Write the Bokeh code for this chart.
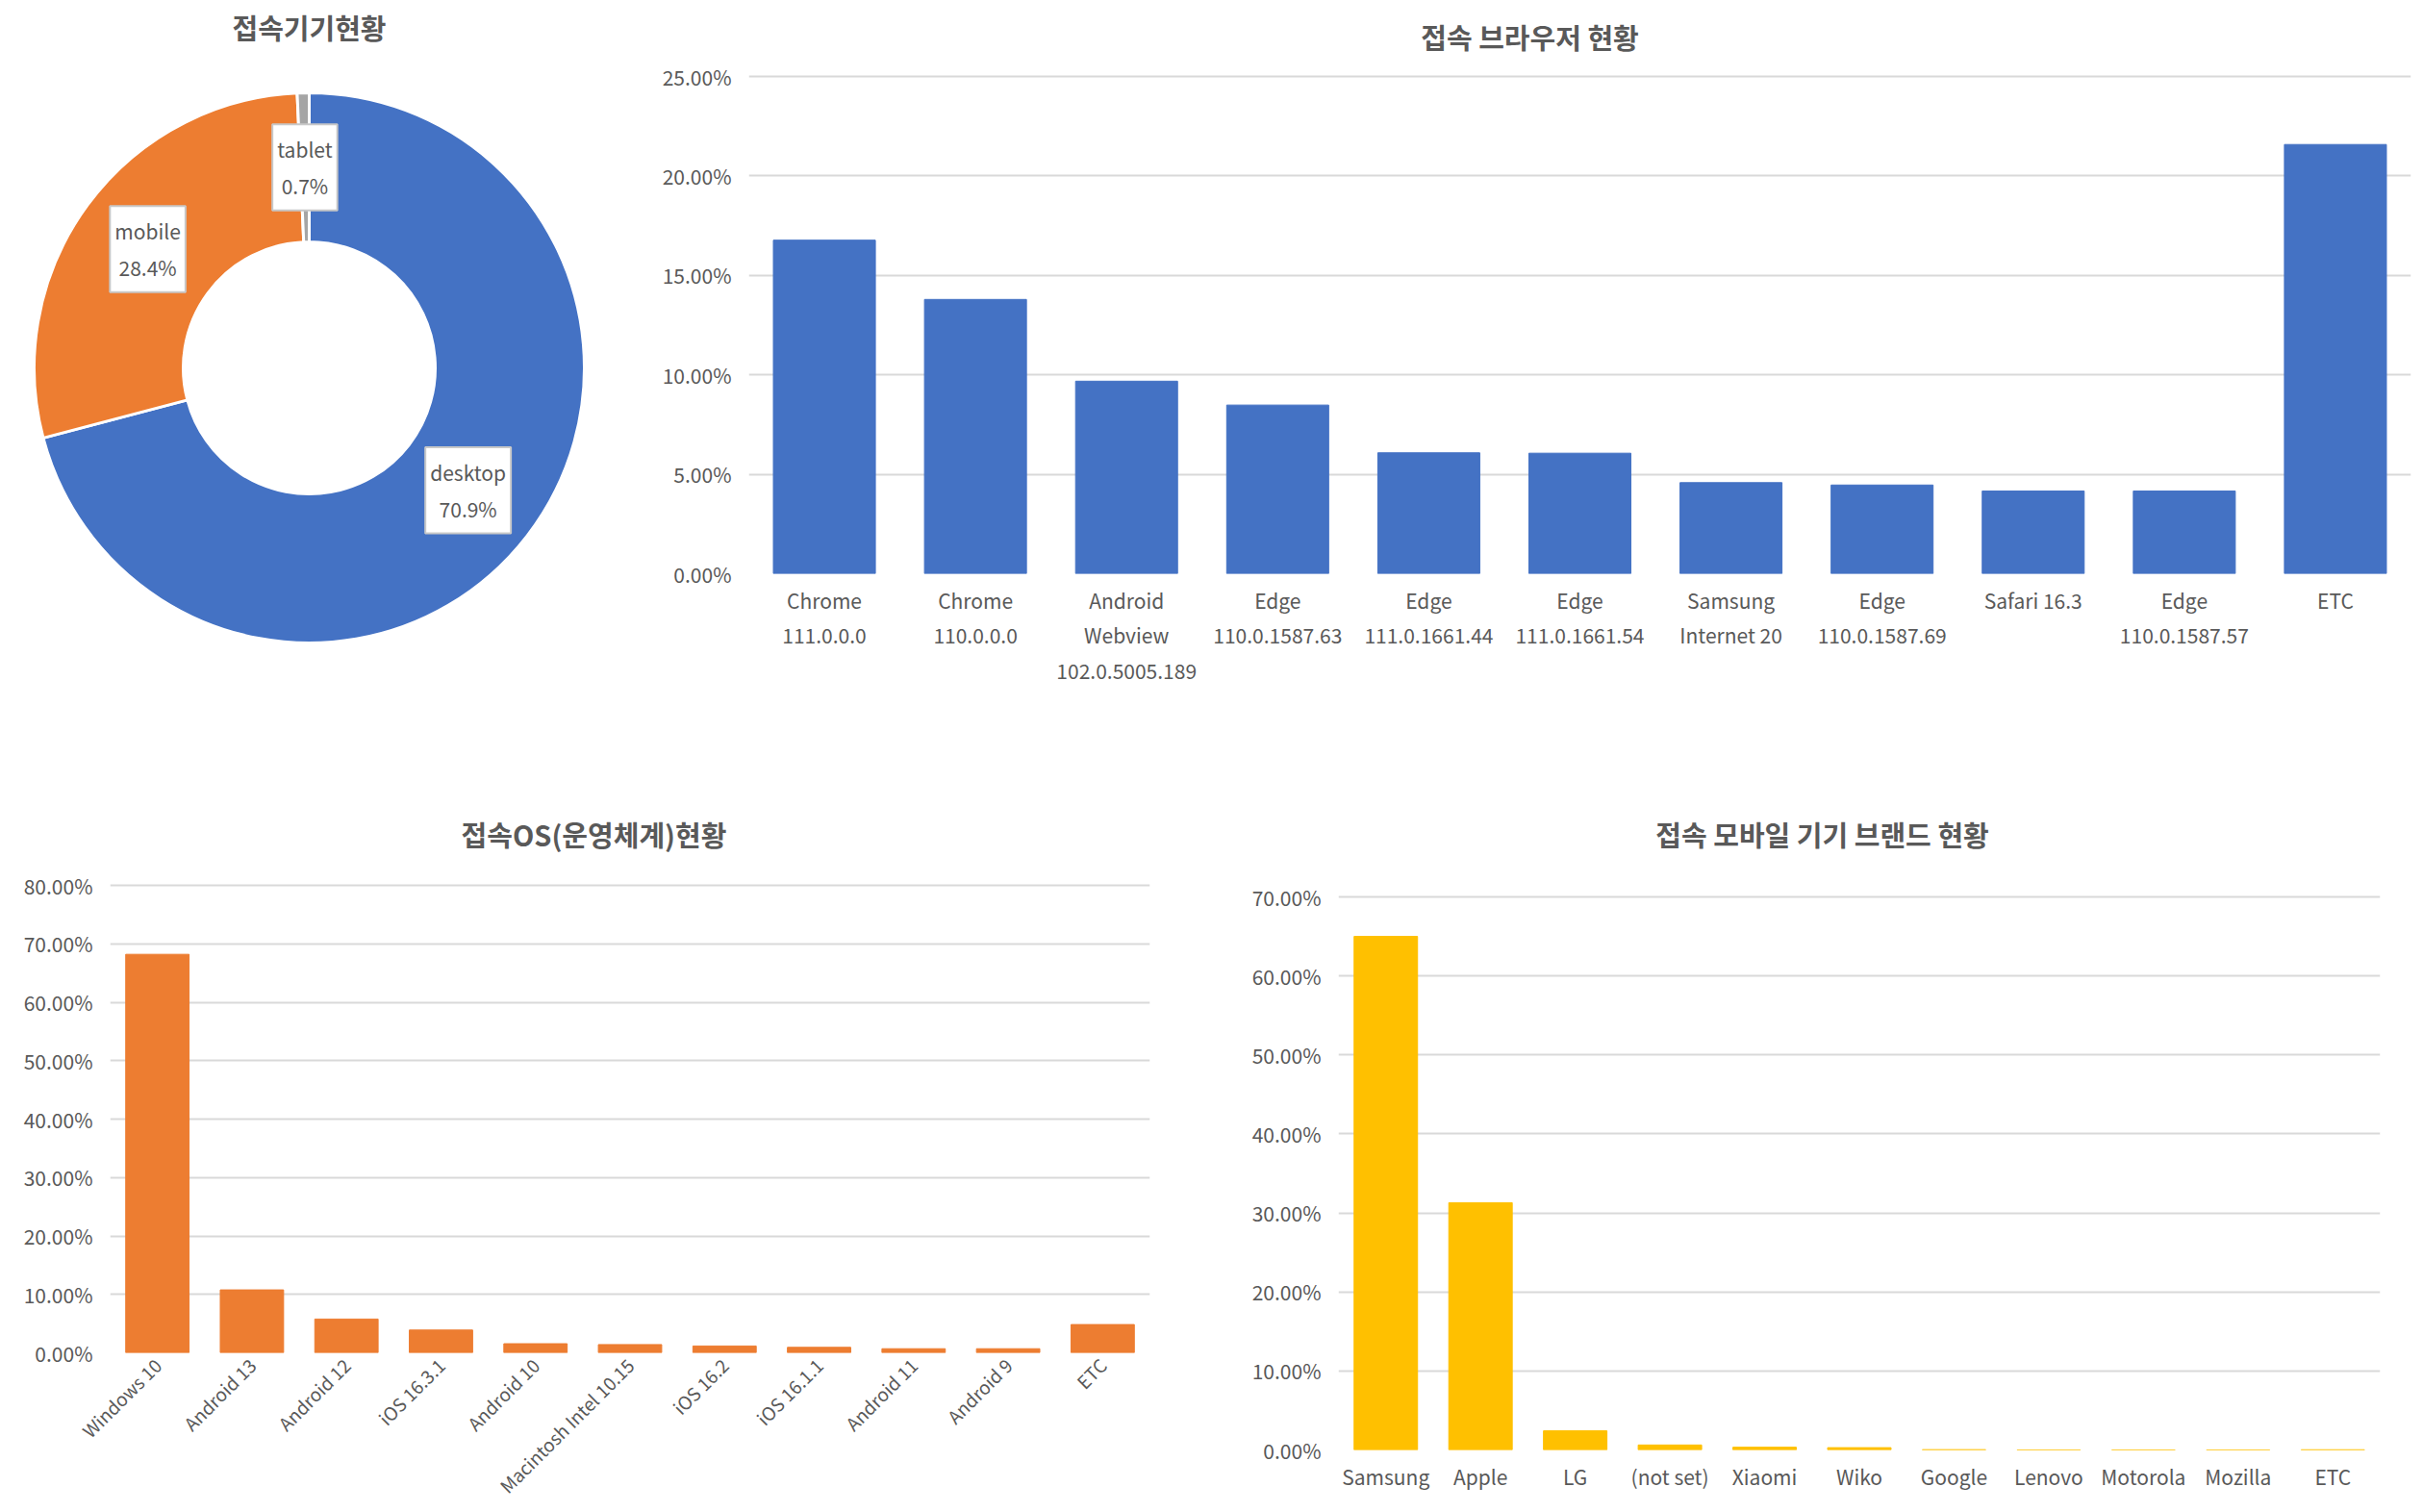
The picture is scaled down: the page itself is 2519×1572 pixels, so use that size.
import math
from bokeh.plotting import figure
from bokeh.layouts import column, row
from bokeh.models import (Range1d, FactorRange, Label, PrintfTickFormatter,
                          FixedTicker, ColumnDataSource)
from bokeh.core.properties import value
from bokeh.embed import file_html
from bokeh.resources import INLINE

# ---------------- data ----------------
device_names = ["desktop", "mobile", "tablet"]
device_shares = [70.9, 28.4, 0.7]

browser_labels = ["Chrome\n111.0.0.0", "Chrome\n110.0.0.0", "Android\nWebview\n102.0.5005.189",
                  "Edge\n110.0.1587.63", "Edge\n111.0.1661.44", "Edge\n111.0.1661.54",
                  "Samsung\nInternet 20", "Edge\n110.0.1587.69", "Safari 16.3",
                  "Edge\n110.0.1587.57", "ETC"]
browser_shares = [16.77, 13.79, 9.68, 8.48, 6.08, 6.06, 4.58, 4.46, 4.16, 4.16, 21.58]
browser_ticks = [0, 5, 10, 15, 20, 25]

os_labels = ["Windows 10", "Android 13", "Android 12", "iOS 16.3.1", "Android 10",
             "Macintosh Intel 10.15", "iOS 16.2", "iOS 16.1.1", "Android 11", "Android 9", "ETC"]
os_shares = [68.2, 10.77, 5.78, 3.90, 1.56, 1.41, 1.17, 0.94, 0.70, 0.70, 4.84]
os_ticks = [0, 10, 20, 30, 40, 50, 60, 70, 80]

brand_labels = ["Samsung", "Apple", "LG", "(not set)", "Xiaomi", "Wiko", "Google",
                "Lenovo", "Motorola", "Mozilla", "ETC"]
brand_shares = [65.0, 31.3, 2.42, 0.63, 0.35, 0.29, 0.04, 0.01, 0.01, 0.01, 0.03]
brand_ticks = [0, 10, 20, 30, 40, 50, 60, 70]

titles = ["접속기기현황", "접속 브라우저 현황", "접속OS(운영체계)현황", "접속 모바일 기기 브랜드 현황"]

# ---------------- style ----------------
FONT = "Noto Sans CJK KR"
TXT = "#595959"
GRID = "#D9D9D9"
BLUE = "#4472C4"
ORANGE = "#ED7D31"
GRAY = "#A5A5A5"
YELLOW = "#FFC000"
TITLE_SIZE = "29px"
LABEL_SIZE = "21px"


def bar_panel(labels, shares, ticks, color, fig_x0, fig_x1, fig_y0, fig_y1,
              frame_l, frame_r, y_top_px, y_zero_px, title, title_cx, title_cy, bar_w):
    """Bar chart; frame spans from figure top down to the zero line (pixel layout)."""
    width = fig_x1 - fig_x0
    height = fig_y1 - fig_y0
    px_per_unit = (y_zero_px - y_top_px) / ticks[-1]
    y_end = ticks[-1] + (y_top_px - fig_y0) / px_per_unit
    p = figure(width=width, height=height, x_range=FactorRange(*labels),
               y_range=Range1d(0, y_end), output_backend="svg", toolbar_location=None,
               min_border_left=frame_l - fig_x0, min_border_right=fig_x1 - frame_r,
               min_border_top=0, min_border_bottom=fig_y1 - y_zero_px)
    p.vbar(x=labels, top=shares, width=bar_w, color=color)
    p.xgrid.grid_line_color = None
    p.ygrid.grid_line_color = GRID
    p.ygrid.grid_line_width = 2
    p.outline_line_color = None
    p.yaxis.ticker = FixedTicker(ticks=ticks)
    p.yaxis.formatter = PrintfTickFormatter(format="%.2f%%")
    for ax in (p.xaxis, p.yaxis):
        ax.axis_line_color = None
        ax.major_tick_line_color = None
        ax.minor_tick_line_color = None
        ax.major_tick_out = 0
        ax.major_tick_in = 0
        ax.major_label_text_font = FONT
        ax.major_label_text_font_size = LABEL_SIZE
        ax.major_label_text_color = TXT
    p.yaxis.major_label_standoff = 18
    # title as text inside the (extended) frame
    cat_w = (frame_r - frame_l) / len(labels)
    tx = (title_cx - frame_l) / cat_w
    ty = ticks[-1] + (y_top_px - title_cy) / px_per_unit
    p.text(x=[tx], y=[ty], text=[title], text_font=value(FONT), text_font_size=TITLE_SIZE,
           text_font_style="bold", text_color=TXT, text_align="center", text_baseline="middle")
    return p


# ---------------- donut ----------------
CX, CY = 321, 382          # donut centre in page pixels
D_W, D_H = 650, 800
p1 = figure(width=D_W, height=D_H, x_range=Range1d(-CX, D_W - CX), y_range=Range1d(CY - D_H, CY),
            output_backend="svg", toolbar_location=None, min_border=0,
            x_axis_type=None, y_axis_type=None)
p1.grid.visible = False
p1.outline_line_color = None

total = sum(device_shares)
starts, ends, mids = [], [], []
cum = 0.0
for s in device_shares:
    f = s / total
    starts.append(math.pi / 2 - 2 * math.pi * cum)
    mids.append(math.pi / 2 - 2 * math.pi * (cum + f / 2))
    cum += f
    ends.append(math.pi / 2 - 2 * math.pi * cum)

R_IN, R_OUT = 131, 286
src = ColumnDataSource(dict(start=starts, end=ends, color=[BLUE, ORANGE, GRAY]))
p1.annular_wedge(x=0, y=0, inner_radius=R_IN, outer_radius=R_OUT, start_angle="start",
                 end_angle="end", direction="clock", fill_color="color",
                 line_color="white", line_width=3, source=src)

rm = (R_IN + R_OUT) / 2
for name, share, a in zip(device_names, device_shares, mids):
    p1.add_layout(Label(x=rm * math.cos(a), y=rm * math.sin(a), text=f"{name}\n{share}%",
                        text_font=FONT, text_font_size=LABEL_SIZE, text_color=TXT,
                        text_align="center", text_baseline="middle", text_line_height=1.25,
                        background_fill_color="white", border_line_color="#C8C8C8",
                        border_line_width=2, padding=(5, 11)))

p1.text(x=[0], y=[CY - 27], text=[titles[0]], text_font=value(FONT), text_font_size=TITLE_SIZE,
        text_font_style="bold", text_color=TXT, text_align="center", text_baseline="middle")

# ---------------- browsers ----------------
p2 = bar_panel(browser_labels, browser_shares, browser_ticks, BLUE,
               650, 2511, 0, 800, 778, 2506, 79, 596, titles[1], 1590, 37, 0.675)
p2.xaxis.major_label_text_line_height = 1.22
p2.xaxis.major_label_standoff = 12

# ---------------- OS ----------------
p3 = bar_panel(os_labels, os_shares, os_ticks, ORANGE,
               0, 1250, 800, 1572, 114, 1195, 920, 1406, titles[2], 617, 866, 0.67)
p3.xaxis.major_label_orientation = math.pi / 4
p3.xaxis.major_label_text_font_size = "19px"
p3.xaxis.major_label_standoff = 9

# ---------------- brands ----------------
p4 = bar_panel(brand_labels, brand_shares, brand_ticks, YELLOW,
               1250, 2511, 800, 1572, 1391, 2474, 932, 1507, titles[3], 1894, 866, 0.67)
p4.xaxis.major_label_standoff = 12

layout = column(row(column(p1), column(p2)), row(column(p3), column(p4)))
open("out.html", "w").write(file_html(layout, INLINE))
